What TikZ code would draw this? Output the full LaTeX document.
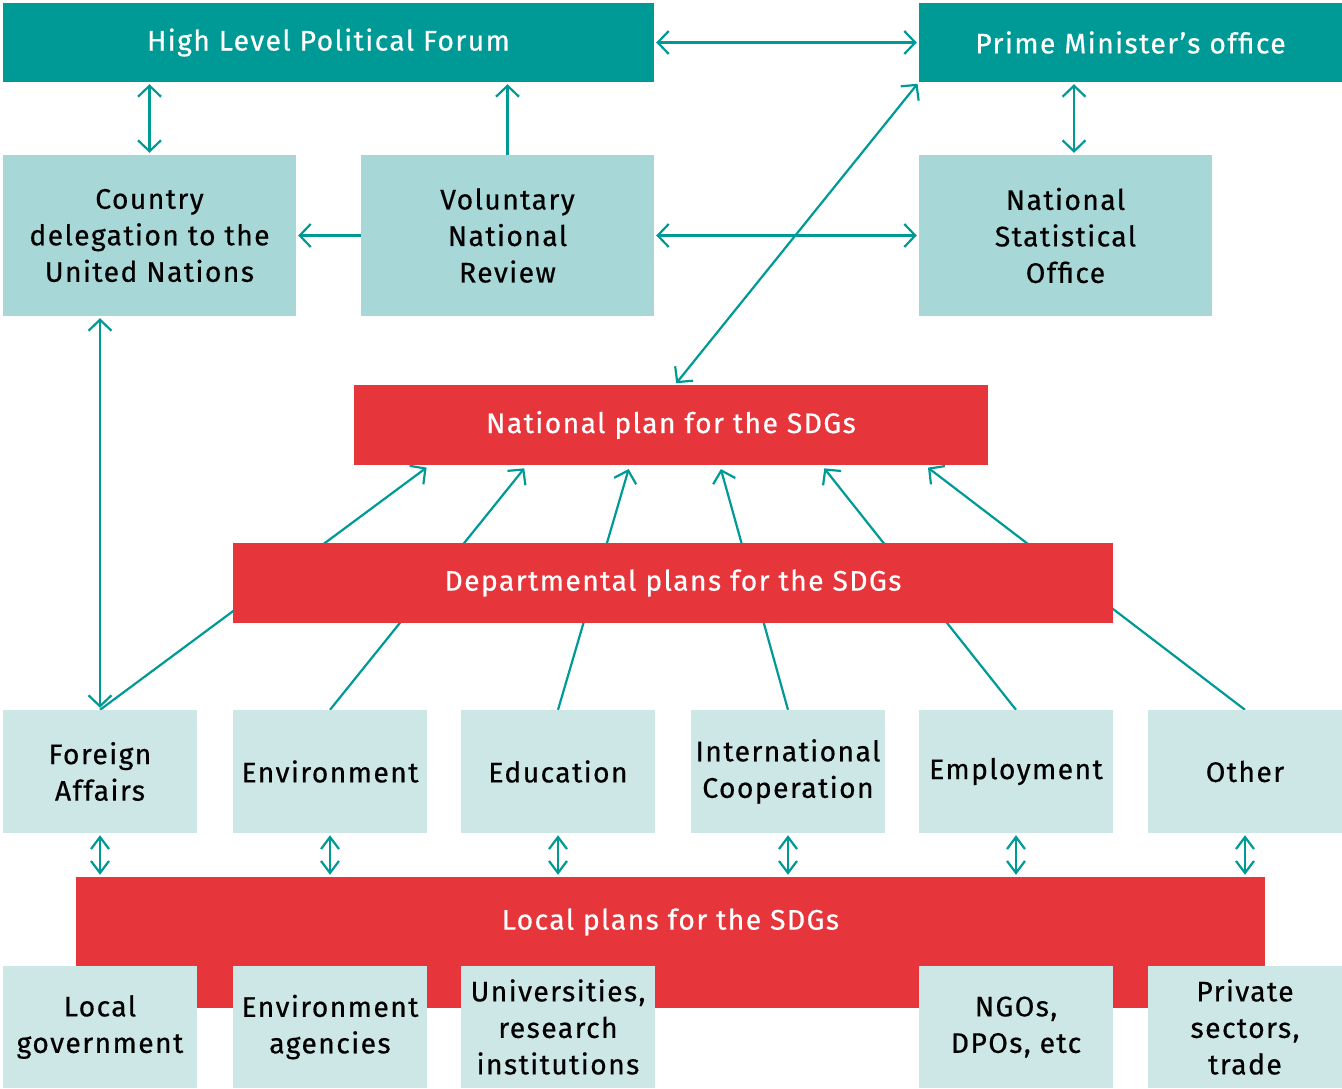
\documentclass[tikz,border=0pt]{standalone}
\usepackage{fontspec}
\setmainfont[LetterSpace=5,FakeBold=0.5]{Fira Sans}
\usetikzlibrary{arrows.meta,calc,backgrounds}
\definecolor{tealD}{HTML}{009A96}
\definecolor{tealL}{HTML}{A8D7D7}
\definecolor{tealP}{HTML}{CCE7E5}
\definecolor{redP}{HTML}{E6353B}
\tikzset{
  base/.style={inner sep=0pt, align=center, font=\fontsize{28.3}{36.5}\selectfont},
  darkbox/.style={base, fill=tealD, text=white},
  midbox/.style={base, fill=tealL, text=black},
  lightbox/.style={base, fill=tealP, text=black},
  redbox/.style={base, fill=redP, text=white},
  conn/.style={draw=tealD, line width=2.2pt},
  bi/.style={conn, {Straight Barb[length=11pt,width=23pt]}-{Straight Barb[length=11pt,width=23pt]}, shorten <=2pt, shorten >=2pt},
  uni/.style={conn, -{Straight Barb[length=11pt,width=23pt]}, shorten >=2pt},
  smallbi/.style={conn, {Straight Barb[length=12pt,width=18pt]}-{Straight Barb[length=12pt,width=18pt]}, shorten <=2pt, shorten >=2pt},
  deptbox/.style={lightbox, minimum width=194pt, minimum height=123pt},
  botbox/.style={lightbox, minimum width=194pt, minimum height=122pt}
}
\begin{document}
\begin{tikzpicture}[x=1pt,y=-1pt]
\useasboundingbox (0,0) rectangle (1342,1088);
% top
\node[darkbox, minimum width=651pt, minimum height=79pt] (hlpf) at (328.5,42.5) {High Level Political Forum};
\node[darkbox, minimum width=423pt, minimum height=79pt] (pm) at (1130.5,42.5) {Prime Minister's office};
\node[midbox, minimum width=293pt, minimum height=161pt] (cd) at (149.5,235.5) {Country\\delegation to the\\United Nations};
\node[midbox, minimum width=293pt, minimum height=161pt] (vnr) at (507.5,235.5) {Voluntary\\National\\Review};
\node[midbox, minimum width=293pt, minimum height=161pt] (nso) at (1065.5,235.5) {National\\Statistical\\Office};
% plans
\node[redbox, minimum width=634pt, minimum height=80pt] (np) at (671,425) {National plan for the SDGs};
\node[redbox, minimum width=880pt, minimum height=80pt] (dp) at (673,583) {Departmental plans for the SDGs};
% departments
\node[deptbox] (fa) at (100,771.5) {Foreign\\Affairs};
\node[deptbox] (env) at (330,771.5) {Environment};
\node[deptbox] (edu) at (558,771.5) {Education};
\node[deptbox] (ic) at (788,771.5) {International\\Cooperation};
\node[deptbox] (emp) at (1016,771.5) {Employment};
\node[deptbox] (oth) at (1245,771.5) {Other};
% local
\node[redbox, minimum width=1189pt, minimum height=131pt] (lp) at (670.5,942.5) {};
\node[base, text=white] (lpt) at (670.5,922) {Local plans for the SDGs};
\node[botbox] (lg) at (100,1027) {Local\\government};
\node[botbox] (ea) at (330,1027) {Environment\\agencies};
\node[botbox] (uni) at (558,1027) {Universities,\\research\\institutions};
\node[botbox] (ngo) at (1016,1027) {NGOs,\\DPOs, etc};
\node[botbox] (ps) at (1245,1027) {Private\\sectors,\\trade};
% connector end points
\coordinate (nsotop) at ($(nso.north)+(8.5,0)$);
\coordinate (pmbot) at (nsotop |- pm.south);
\coordinate (nptop) at ($(np.north)+(4,0)$);
% connectors
\draw[bi] (hlpf.east) -- (pm.west);
\draw[bi] (cd.north) -- (cd.north |- hlpf.south);
\draw[uni] (vnr.north) -- (vnr.north |- hlpf.south);
\draw[uni] (vnr.west) -- (cd.east);
\draw[bi] (vnr.east) -- (nso.west);
\draw[bi] (nsotop) -- (pmbot);
\draw[bi] (nptop) -- (pm.south west);
\draw[bi] (fa.north) -- (fa.north |- cd.south);
\begin{scope}[on background layer]
\draw[uni, shorten >=4pt] (fa.north) -- ($(np.south west)+(76,0)$);
\draw[uni, shorten >=4pt] (env.north) -- ($(np.south west)+(173,0)$);
\draw[uni, shorten >=4pt] (edu.north) -- ($(np.south west)+(276,0)$);
\draw[uni, shorten >=4pt] (ic.north) -- ($(np.south west)+(366,0)$);
\draw[uni, shorten >=4pt] (emp.north) -- ($(np.south west)+(468,0)$);
\draw[uni, shorten >=4pt] (oth.north) -- ($(np.south west)+(571,0)$);
\end{scope}
\foreach \n in {fa,env,edu,ic,emp,oth}{
  \draw[smallbi] (\n.south) -- (\n.south |- lp.north);
}
\end{tikzpicture}
\end{document}
